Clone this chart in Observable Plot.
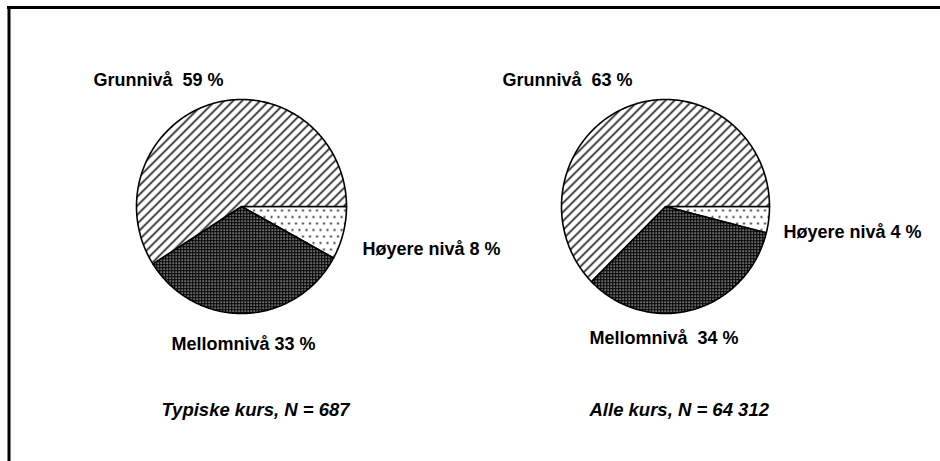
<!DOCTYPE html>
<html>
<head>
<meta charset="utf-8">
<script src="https://cdn.jsdelivr.net/npm/d3@7"></script>
<script src="https://cdn.jsdelivr.net/npm/@observablehq/plot@0.6"></script>
<style>
  html, body { margin: 0; padding: 0; background: #fff; }
  svg { display: block; }
</style>
</head>
<body>
<div id="chart"></div>
<script>
// ---- Data ----
// Slices are listed clockwise, starting at 3 o'clock.
const levels = ["Høyere nivå", "Mellomnivå", "Grunnivå"];
const typiskeKurs = [8, 33, 59];   // Typiske kurs, N = 687
const alleKurs = [4, 34, 63];      // Alle kurs, N = 64 312
const pieNames = ["Typiske kurs, N = 687", "Alle kurs, N = 64 312"];
const labelTexts = [
  ["Høyere nivå 8 %", "Mellomnivå 33 %", "Grunnivå\u00a0 59 %"],
  ["Høyere nivå 4 %", "Mellomnivå\u00a0 34 %", "Grunnivå\u00a0 63 %"]
];

// ---- Layout (pixel space, not data) ----
const W = 940, H = 461;
const pieLayout = [
  {cx: 241, cy: 206, rx: 105, ry: 107},
  {cx: 665, cy: 206, rx: 104, ry: 107}
];
// label anchor positions (start x, baseline y) per slice, and caption positions
const labelPos = [
  [{x: 362, y: 254}, {x: 171, y: 349}, {x: 93, y: 85}],
  [{x: 783, y: 237}, {x: 589, y: 343}, {x: 502, y: 85}]
];
const captionPos = [{x: 161, y: 415}, {x: 589, y: 415}];
const patternFor = ["url(#pDots)", "url(#pCross)", "url(#pHatch)"];

// ---- Build slice outlines from the values ----
function slicePoints(values, p, pieIndex) {
  const arcs = d3.pie().sort(null)
    .startAngle(Math.PI / 2).endAngle(Math.PI / 2 + 2 * Math.PI)(values);
  const pts = [];
  arcs.forEach((a, i) => {
    const id = `${pieIndex}-${i}`;
    pts.push({id, level: levels[i], x: p.cx, y: p.cy});
    const n = Math.max(2, Math.ceil((a.endAngle - a.startAngle) / 0.01));
    for (let k = 0; k <= n; k++) {
      const t = a.startAngle + (a.endAngle - a.startAngle) * k / n;
      pts.push({id, level: levels[i], x: p.cx + p.rx * Math.sin(t), y: p.cy - p.ry * Math.cos(t)});
    }
  });
  return pts;
}
const points = [
  ...slicePoints(typiskeKurs, pieLayout[0], 0),
  ...slicePoints(alleKurs, pieLayout[1], 1)
];

const labels = [];
[typiskeKurs, alleKurs].forEach((vals, pi) => {
  vals.forEach((v, i) => labels.push({text: labelTexts[pi][i], ...labelPos[pi][i]}));
});
const captions = pieNames.map((t, i) => ({text: t, ...captionPos[i]}));

const font = "'Liberation Sans', Arial, Helvetica, sans-serif";

const chart = Plot.plot({
  width: W,
  height: H,
  margin: 0,
  style: {background: "#fff", color: "#000"},
  x: {domain: [0, W], range: [0, W], axis: null},
  y: {domain: [0, H], range: [0, H], axis: null},
  color: {type: "ordinal", domain: levels, range: patternFor},
  marks: [
    // frame (top and left edges)
    Plot.ruleY([7], {x1: 7, x2: W, stroke: "#000", strokeWidth: 3}),
    Plot.ruleX([8.5], {y1: 6, y2: H, stroke: "#000", strokeWidth: 3}),
    // pie slices
    Plot.line(points, {
      x: "x", y: "y", z: "id", fill: "level",
      stroke: "#000", strokeWidth: 1.6, strokeLinejoin: "round",
      curve: "linear-closed"
    }),
    // slice labels
    Plot.text(labels, {
      x: "x", y: "y", text: "text", textAnchor: "start", lineAnchor: "bottom",
      fontFamily: font, fontSize: 18, fontWeight: "bold", fill: "#000"
    }),
    // captions
    Plot.text(captions, {
      x: "x", y: "y", text: "text", textAnchor: "start", lineAnchor: "bottom",
      fontFamily: font, fontSize: 18.5, fontWeight: "bold", fontStyle: "italic", fill: "#000"
    })
  ]
});

// fill patterns
d3.select(chart).insert("defs", ":first-child").html(`
  <pattern id="pHatch" patternUnits="userSpaceOnUse" width="9" height="9">
    <rect width="9" height="9" fill="#fff"/>
    <path d="M-2,2L2,-2M0,9L9,0M7,11L11,7" stroke="#000" stroke-width="1.5"/>
  </pattern>
  <pattern id="pCross" patternUnits="userSpaceOnUse" width="3" height="3">
    <rect width="3" height="3" fill="#000"/>
    <rect x="1" y="1" width="1.3" height="1.3" fill="#fff"/>
  </pattern>
  <pattern id="pDots" patternUnits="userSpaceOnUse" width="7" height="13">
    <rect width="7" height="13" fill="#fff"/>
    <circle cx="1.5" cy="2" r="1" fill="#000"/>
    <circle cx="5" cy="8.5" r="1" fill="#000"/>
  </pattern>
`);

document.getElementById("chart").appendChild(chart);
</script>
</body>
</html>
